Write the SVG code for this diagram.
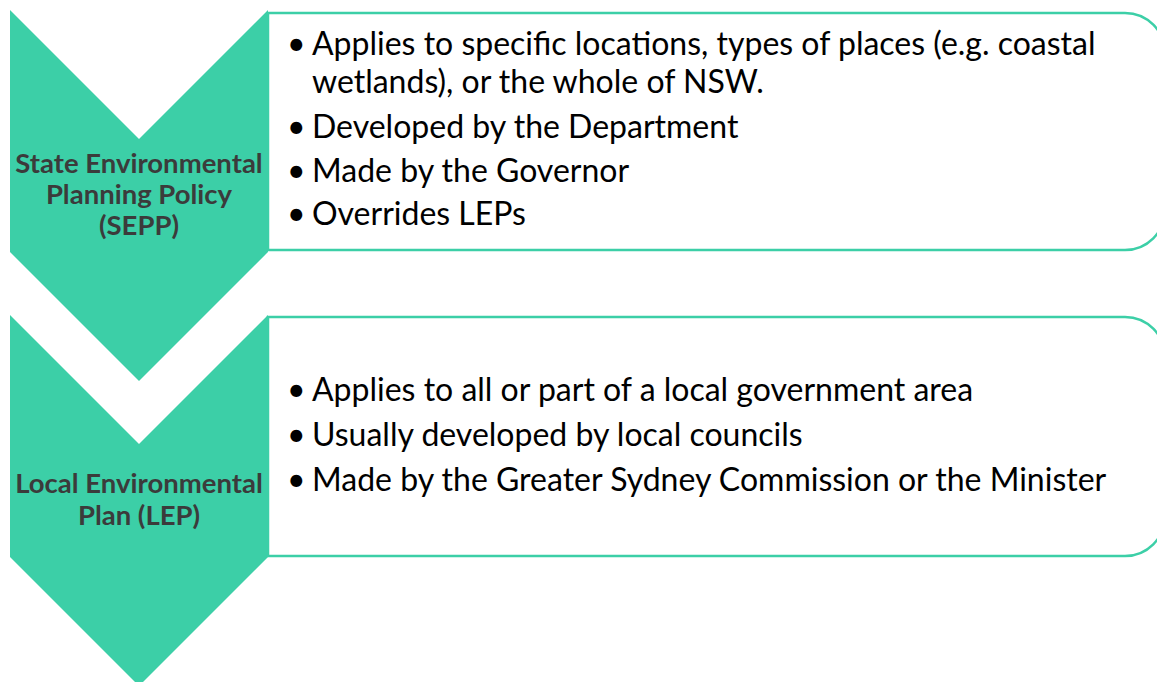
<svg xmlns="http://www.w3.org/2000/svg" width="1157" height="682" viewBox="0 0 1157 682">
  <style>
    .chev { fill: #3ccfa7; }
    .box { fill: #ffffff; stroke: #3ccfa7; stroke-width: 2.5; }
    .label { font-family: Lato, "Open Sans", "Liberation Sans", sans-serif; font-weight: 700; font-size: 27.5px; fill: #3b3b3b; text-anchor: middle; }
    .item { font-family: Lato, "Open Sans", "Liberation Sans", sans-serif; font-size: 32px; fill: #000000; }
  </style>
  <rect width="1157" height="682" fill="#ffffff"/>

  <!-- SEPP stage: text panel with rounded right side, chevron on top -->
  <g id="sepp">
    <path class="box" d="M268,13 L1125,13 A40,40 0 0 1 1165,53 L1165,210 A40,40 0 0 1 1125,250 L268,250 Z"/>
    <path class="chev" d="M10,10 L139,139 L268,10 L268,252 L139,381 L10,252 Z"/>
    <text class="label" x="139" y="173">State Environmental</text>
    <text class="label" x="139" y="204">Planning Policy</text>
    <text class="label" x="139" y="235">(SEPP)</text>
    <text class="item"><tspan x="287" y="55">•</tspan><tspan x="312" y="55">Applies to specific locations, types of places (e.g. coastal</tspan></text>
    <text class="item" x="312" y="93">wetlands), or the whole of NSW.</text>
    <text class="item"><tspan x="287" y="138">•</tspan><tspan x="312" y="138">Developed by the Department</tspan></text>
    <text class="item"><tspan x="287" y="182">•</tspan><tspan x="312" y="182">Made by the Governor</tspan></text>
    <text class="item"><tspan x="287" y="225">•</tspan><tspan x="312" y="225">Overrides LEPs</tspan></text>
  </g>

  <!-- LEP stage -->
  <g id="lep">
    <path class="box" d="M268,317 L1125,317 A40,40 0 0 1 1165,357 L1165,516 A40,40 0 0 1 1125,556 L268,556 Z"/>
    <path class="chev" d="M10,315 L139,444 L268,315 L268,557 L139,686 L10,557 Z"/>
    <text class="label" x="139" y="493">Local Environmental</text>
    <text class="label" x="139" y="525">Plan (LEP)</text>
    <text class="item"><tspan x="287" y="401">•</tspan><tspan x="312" y="401">Applies to all or part of a local government area</tspan></text>
    <text class="item"><tspan x="287" y="446">•</tspan><tspan x="312" y="446">Usually developed by local councils</tspan></text>
    <text class="item"><tspan x="287" y="491">•</tspan><tspan x="312" y="491">Made by the Greater Sydney Commission or the Minister</tspan></text>
  </g>

  <!-- the stages carry no connectors -->
  <g id="connectors"/>
</svg>
